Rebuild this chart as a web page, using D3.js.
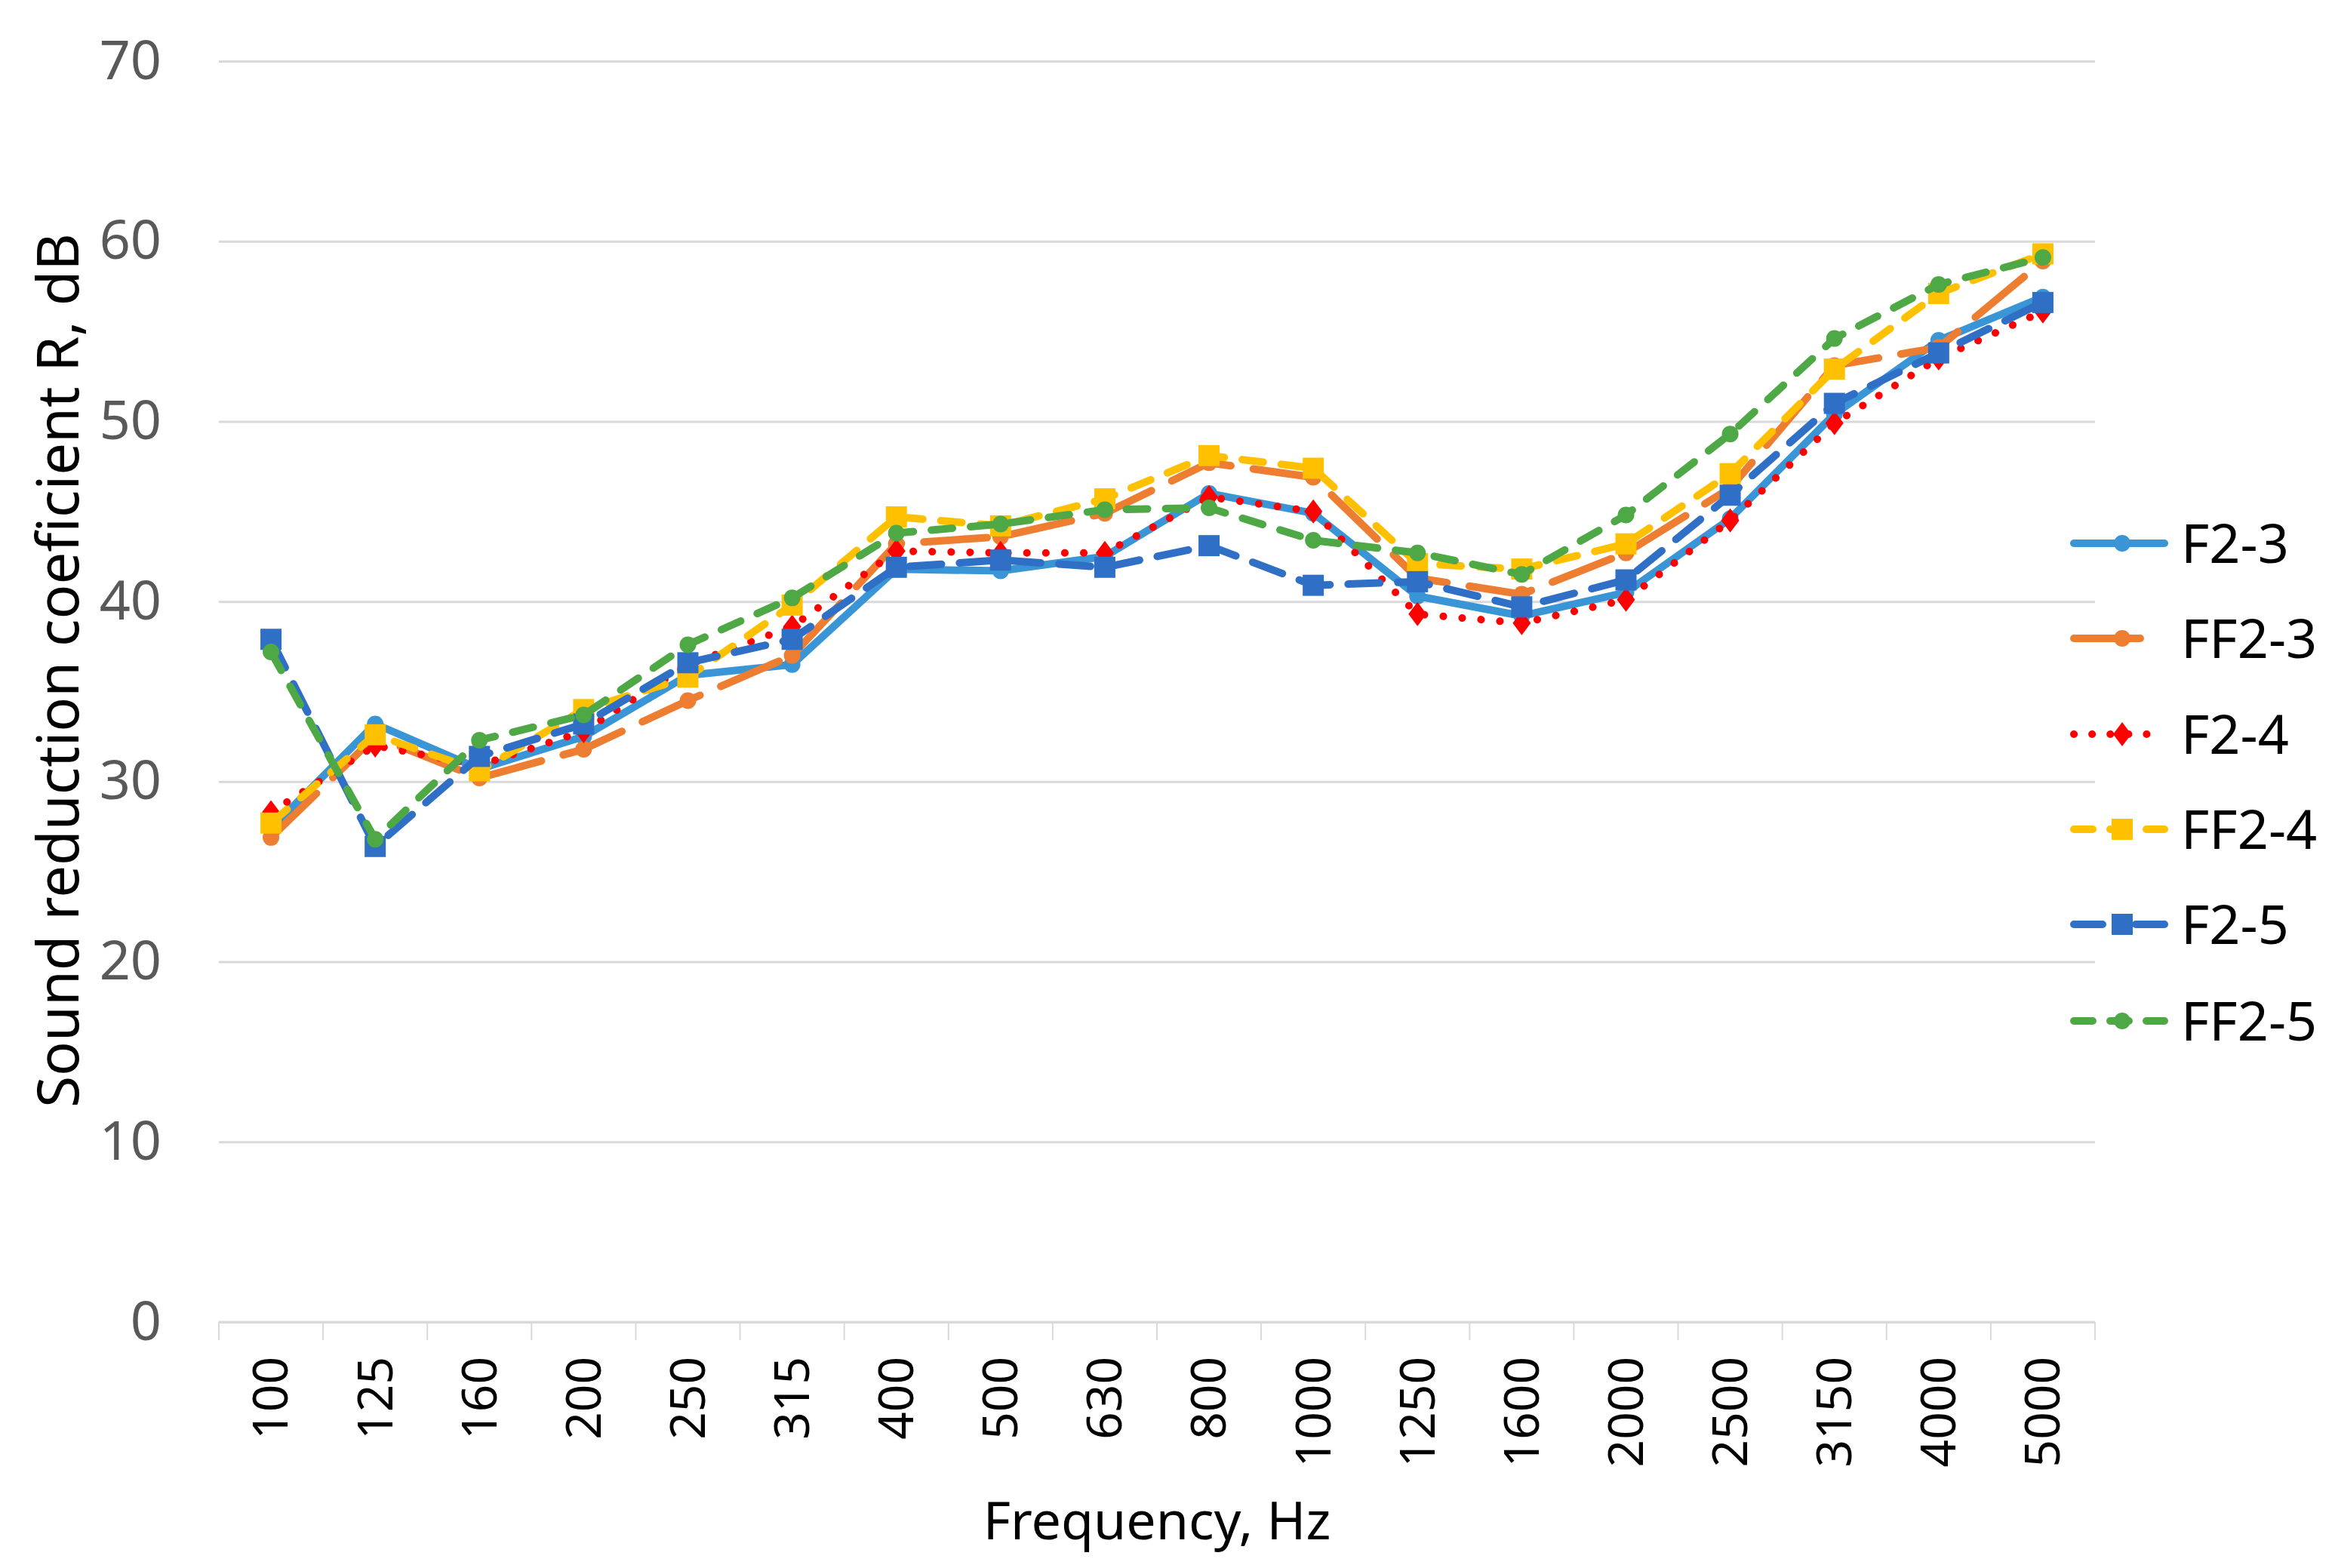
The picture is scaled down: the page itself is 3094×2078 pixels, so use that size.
<!DOCTYPE html>
<html>
<head>
<meta charset="utf-8">
<script src="https://cdn.jsdelivr.net/npm/d3@7"></script>
<style>
  body { margin: 0; background: #fff; }
  text { font-family: "Noto Sans", "Open Sans", sans-serif; }
</style>
</head>
<body>
<div id="chart"></div>
<script>
// frequency bands, Hz
const categories = ['100', '125', '160', '200', '250', '315', '400', '500', '630',
  '800', '1000', '1250', '1600', '2000', '2500', '3150', '4000', '5000'];

const yTicks = [0, 10, 20, 30, 40, 50, 60, 70];

// sound reduction values, dB
const f23 = [27.4, 33.2, 30.7, 32.5, 35.9, 36.5, 41.8, 41.7, 42.5, 46.0, 44.9, 40.3, 39.2, 40.5, 44.6, 50.4, 54.5, 56.9];
const ff23 = [26.9, 32.5, 30.2, 31.8, 34.5, 37.0, 43.2, 43.6, 44.9, 47.7, 46.9, 41.3, 40.4, 42.7, 46.3, 53.1, 54.1, 58.9];
const f24 = [28.3, 32.0, 30.9, 32.8, 36.5, 38.6, 42.8, 42.7, 42.7, 45.8, 45.0, 39.3, 38.8, 40.1, 44.5, 49.9, 53.5, 56.1];
const ff24 = [27.7, 32.6, 30.6, 34.0, 35.8, 39.8, 44.7, 44.2, 45.7, 48.1, 47.4, 42.1, 41.8, 43.2, 47.1, 52.9, 57.1, 59.3];
const f25 = [37.9, 26.4, 31.4, 33.2, 36.6, 37.9, 41.9, 42.3, 41.9, 43.1, 40.9, 41.1, 39.7, 41.2, 45.9, 51.0, 53.8, 56.6];
const ff25 = [37.2, 26.8, 32.3, 33.7, 37.6, 40.2, 43.8, 44.3, 45.1, 45.2, 43.4, 42.7, 41.5, 44.8, 49.3, 54.6, 57.6, 59.1];

const seriesNames = ['F2-3', 'FF2-3', 'F2-4', 'FF2-4', 'F2-5', 'FF2-5'];
const seriesValues = [f23, ff23, f24, ff24, f25, ff25];

// look of each series (legDash = how the short legend sample breaks up)
const styles = [
  { color: '#3a95d6', dash: null, legDash: null, marker: 'circle' },
  { color: '#ed7d31', dash: '84 30', legDash: '88 200', marker: 'circle' },
  { color: '#ff0000', dash: '0.1 25', legDash: '0.1 24', marker: 'diamond' },
  { color: '#ffc000', dash: '28 24', legDash: '25 23', marker: 'square' },
  { color: '#2f6fc6', dash: '42 24', legDash: '38 44', marker: 'square' },
  { color: '#4ea845', dash: '28 24', legDash: '25 23', marker: 'circle' },
];

const width = 3094;
const height = 2078;
const plot = { left: 290, right: 2776, top: 81, bottom: 1752 };
const lw = 10;

const svg = d3.select('#chart')
  .append('svg')
  .attr('width', width)
  .attr('height', height);

const x = d3.scaleBand()
  .domain(categories)
  .range([plot.left, plot.right])
  .padding(0);

const y = d3.scaleLinear()
  .domain([0, 70])
  .range([plot.bottom, plot.top]);

// gridlines + y labels
const yAxis = svg.append('g')
  .attr('transform', `translate(${plot.left},0)`)
  .call(d3.axisLeft(y)
    .tickValues(yTicks)
    .tickSize(-(plot.right - plot.left))
    .tickPadding(76));

yAxis.select('.domain').remove();
yAxis.selectAll('.tick line')
  .attr('stroke', '#d9d9d9')
  .attr('stroke-width', 3);
yAxis.selectAll('.tick text')
  .attr('fill', '#595959')
  .style('font-size', '72px');

// bottom axis line and the ticks between bands
svg.append('line')
  .attr('x1', plot.left).attr('x2', plot.right)
  .attr('y1', plot.bottom).attr('y2', plot.bottom)
  .attr('stroke', '#d9d9d9')
  .attr('stroke-width', 3);

const bounds = categories.map((c) => x(c)).concat([x(categories[categories.length - 1]) + x.bandwidth()]);
svg.append('g')
  .selectAll('line')
  .data(bounds)
  .join('line')
  .attr('x1', (d) => d).attr('x2', (d) => d)
  .attr('y1', plot.bottom).attr('y2', plot.bottom + 24)
  .attr('stroke', '#d9d9d9')
  .attr('stroke-width', 2);

// x labels, rotated
const xAxis = svg.append('g')
  .attr('transform', `translate(0,${plot.bottom})`)
  .call(d3.axisBottom(x).tickSize(0).tickPadding(0));

xAxis.select('.domain').remove();
xAxis.selectAll('.tick text')
  .attr('transform', 'translate(0,46) rotate(-90)')
  .attr('text-anchor', 'end')
  .attr('dy', '0.35em')
  .attr('y', 0)
  .attr('x', 0)
  .attr('fill', '#000')
  .style('font-size', '64px');

// axis titles
svg.append('text')
  .attr('transform', `translate(104,${(plot.top + plot.bottom) / 2 - 28}) rotate(-90)`)
  .attr('text-anchor', 'middle')
  .attr('fill', '#000')
  .style('font-size', '76px')
  .text('Sound reduction coeficient R, dB');

svg.append('text')
  .attr('x', 1533)
  .attr('y', 2040)
  .attr('text-anchor', 'middle')
  .attr('fill', '#000')
  .style('font-size', '70px')
  .text('Frequency, Hz');

function markerPath(kind) {
  if (kind === 'circle') return d3.symbol(d3.symbolCircle, 380)();
  if (kind === 'square') return d3.symbol(d3.symbolSquare, 784)();
  // slightly tall diamond
  return 'M0,-16L12,0L0,16L-12,0Z';
}

const line = d3.line()
  .x((d, i) => x(categories[i]) + x.bandwidth() / 2)
  .y((d) => y(d));

seriesValues.forEach((vals, s) => {
  const st = styles[s];
  const g = svg.append('g');
  g.append('path')
    .datum(vals)
    .attr('d', line)
    .attr('fill', 'none')
    .attr('stroke', st.color)
    .attr('stroke-width', lw)
    .attr('stroke-linecap', 'round')
    .attr('stroke-linejoin', 'round')
    .attr('stroke-dasharray', st.dash);

  g.selectAll('path.mk')
    .data(vals)
    .join('path')
    .attr('class', 'mk')
    .attr('d', markerPath(st.marker))
    .attr('transform', (d, i) => `translate(${x(categories[i]) + x.bandwidth() / 2},${y(d)})`)
    .attr('fill', st.color);
});

// legend
const legendY = [720, 846, 973, 1099, 1225, 1353];
const legend = svg.append('g');
seriesNames.forEach((name, s) => {
  const st = styles[s];
  const row = legend.append('g').attr('transform', `translate(0,${legendY[s]})`);
  row.append('line')
    .attr('x1', 2748).attr('x2', 2868)
    .attr('y1', 0).attr('y2', 0)
    .attr('stroke', st.color)
    .attr('stroke-width', lw)
    .attr('stroke-linecap', 'round')
    .attr('stroke-dasharray', st.legDash);
  row.append('path')
    .attr('d', markerPath(st.marker))
    .attr('transform', 'translate(2812,0)')
    .attr('fill', st.color);
  row.append('text')
    .attr('x', 2890)
    .attr('y', 0)
    .attr('dy', '0.36em')
    .attr('fill', '#000')
    .style('font-size', '72px')
    .text(name);
});
</script>
</body>
</html>
